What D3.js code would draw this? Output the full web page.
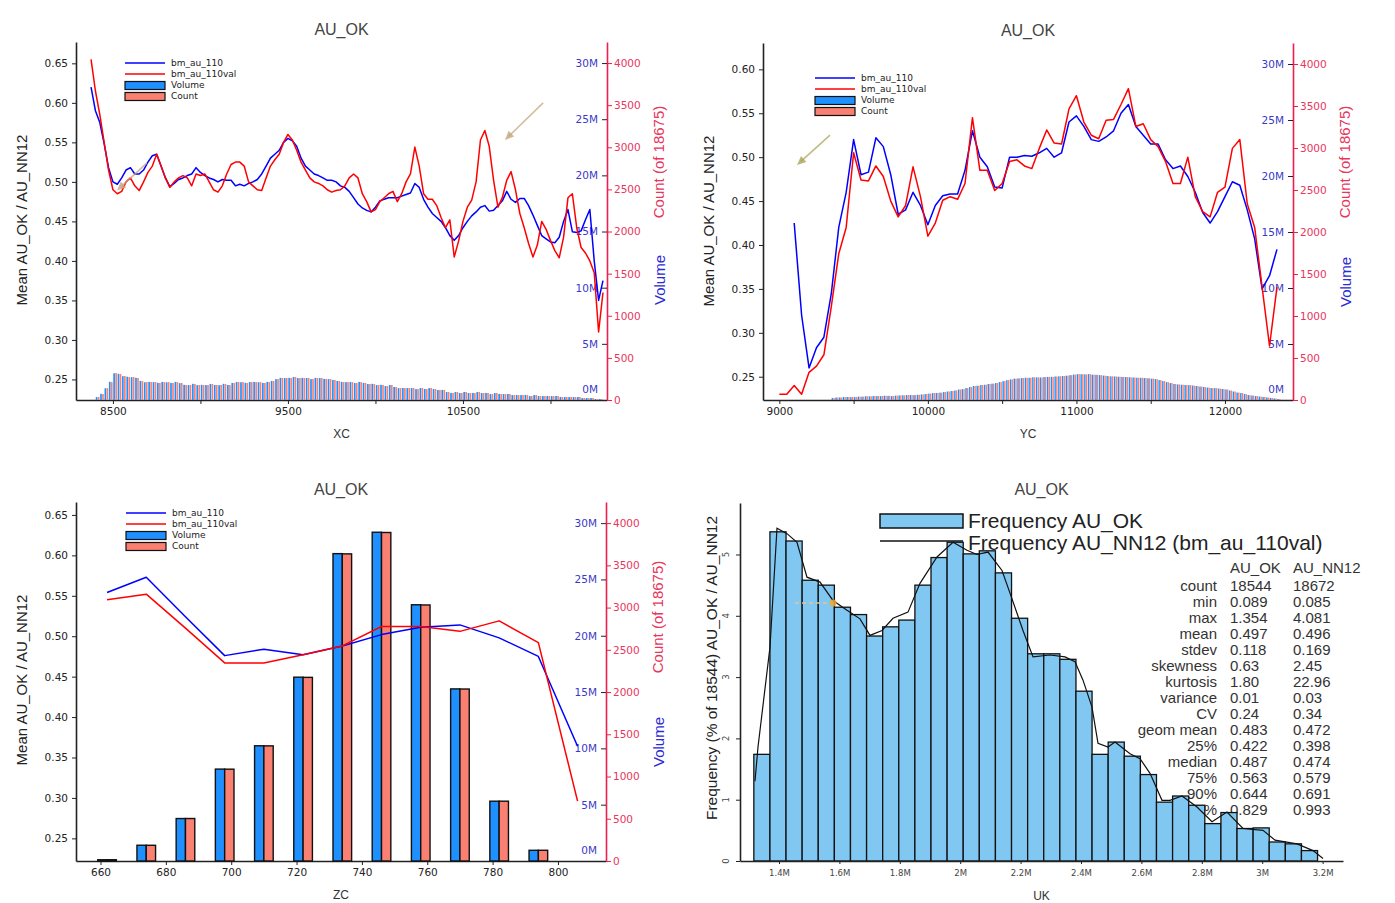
<!DOCTYPE html>
<html>
<head>
<meta charset="utf-8">
<script src="https://cdn.jsdelivr.net/npm/d3@7/dist/d3.min.js"></script>
<style>
  html, body { margin: 0; padding: 0; background: #fff; }
  svg { display: block; }
</style>
</head>
<body>
<svg id="chart" width="1395" height="903"></svg>
<script>
// ---------------- data ----------------
// Swath along XC: mean grade per 25 m slice
const xcLine = d3.range(8375, 11301, 25);
const xcMean110 = [
  0.62,0.59,0.575,0.548,0.518,0.50,0.497,0.505,0.515,0.518,
  0.51,0.51,0.515,0.525,0.533,0.535,0.52,0.505,0.494,0.498,
  0.503,0.505,0.508,0.51,0.518,0.512,0.508,0.505,0.503,0.50,
  0.503,0.502,0.502,0.495,0.497,0.495,0.498,0.50,0.503,0.51,
  0.52,0.53,0.535,0.54,0.55,0.555,0.552,0.545,0.53,0.52,
  0.515,0.51,0.508,0.505,0.502,0.502,0.50,0.495,0.493,0.488,
  0.48,0.472,0.467,0.464,0.462,0.468,0.476,0.478,0.48,0.48,
  0.48,0.482,0.484,0.486,0.498,0.493,0.478,0.468,0.46,0.455,
  0.45,0.442,0.432,0.426,0.432,0.442,0.45,0.457,0.462,0.468,
  0.47,0.463,0.464,0.47,0.476,0.488,0.478,0.474,0.479,0.479,
  0.47,0.458,0.445,0.432,0.428,0.424,0.423,0.43,0.45,0.465,
  0.437,0.436,0.438,0.452,0.465,0.40,0.35,0.375];
const xcMean110val = [
  0.655,0.615,0.585,0.55,0.515,0.49,0.485,0.488,0.50,0.505,
  0.495,0.489,0.50,0.512,0.52,0.535,0.52,0.505,0.493,0.50,
  0.505,0.508,0.505,0.495,0.51,0.508,0.51,0.50,0.49,0.487,
  0.495,0.51,0.522,0.525,0.525,0.52,0.50,0.495,0.49,0.489,
  0.505,0.52,0.528,0.535,0.55,0.56,0.553,0.54,0.525,0.515,
  0.505,0.50,0.498,0.495,0.49,0.487,0.489,0.49,0.495,0.505,
  0.51,0.505,0.485,0.475,0.462,0.465,0.475,0.48,0.485,0.488,
  0.475,0.485,0.50,0.51,0.544,0.52,0.485,0.478,0.478,0.47,
  0.455,0.442,0.452,0.405,0.425,0.45,0.468,0.477,0.50,0.553,
  0.565,0.545,0.502,0.468,0.48,0.502,0.513,0.49,0.46,0.442,
  0.422,0.405,0.42,0.45,0.44,0.426,0.413,0.404,0.43,0.48,
  0.485,0.442,0.417,0.41,0.40,0.385,0.31,0.36];
const xcBins = d3.range(8400, 11276, 25);
const xcCount = [
  36,71,142,213,320,308,285,273,273,261,
  225,213,213,213,202,213,213,202,213,202,
  178,178,190,178,178,178,190,178,178,190,
  178,202,213,213,202,213,213,213,202,213,
  225,249,261,261,261,273,261,261,261,249,
  261,261,249,249,237,225,213,213,213,202,
  213,202,190,190,178,178,166,178,154,142,
  142,142,142,130,142,130,142,130,119,119,
  95,83,95,83,95,83,83,95,83,83,
  71,83,71,71,71,59,59,59,59,47,
  59,47,47,47,47,47,36,36,36,36,
  36,24,24,24,12,12];
const xcVolumeM = [
  0.26,0.55,1.04,1.62,2.38,2.33,2.12,2.07,2.03,1.98,
  1.70,1.58,1.61,1.59,1.53,1.61,1.58,1.52,1.61,1.50,
  1.35,1.33,1.44,1.32,1.35,1.33,1.43,1.34,1.32,1.44,
  1.34,1.52,1.61,1.58,1.53,1.60,1.61,1.58,1.52,1.61,
  1.70,1.86,1.97,1.95,1.97,2.05,1.95,1.97,1.96,1.86,
  1.97,1.95,1.88,1.86,1.78,1.69,1.61,1.59,1.60,1.51,
  1.61,1.52,1.42,1.44,1.33,1.35,1.24,1.34,1.16,1.06,
  1.07,1.06,1.07,0.97,1.07,0.98,1.06,0.98,0.89,0.90,
  0.71,0.63,0.71,0.62,0.72,0.62,0.63,0.71,0.62,0.63,
  0.53,0.62,0.54,0.53,0.54,0.44,0.45,0.44,0.45,0.35,
  0.44,0.36,0.35,0.36,0.35,0.36,0.27,0.27,0.26,0.27,
  0.27,0.18,0.18,0.18,0.09,0.09];

// Swath along YC: mean grade per 50 m slice, histogram per 25 m
const ycLine = d3.range(9000, 12351, 50);
const ycMean110 = [
  null,null,0.425,0.32,0.26,0.283,0.295,0.345,0.42,0.46,
  0.52,0.48,0.483,0.522,0.512,0.48,0.435,0.44,0.46,0.445,
  0.423,0.445,0.456,0.458,0.458,0.485,0.53,0.50,0.489,0.466,
  0.465,0.50,0.50,0.502,0.501,0.505,0.51,0.50,0.505,0.54,
  0.547,0.535,0.52,0.518,0.523,0.53,0.55,0.56,0.535,0.525,
  0.515,0.515,0.497,0.487,0.49,0.478,0.46,0.437,0.425,0.438,
  0.455,0.472,0.468,0.44,0.407,0.35,0.365,0.395];
const ycMean110val = [
  0.23,0.23,0.24,0.23,0.255,0.262,0.275,0.33,0.39,0.42,
  0.505,0.474,0.473,0.49,0.478,0.45,0.432,0.445,0.489,0.455,
  0.41,0.425,0.451,0.455,0.452,0.47,0.545,0.485,0.485,0.462,
  0.47,0.495,0.497,0.49,0.487,0.51,0.531,0.516,0.515,0.555,
  0.57,0.54,0.525,0.521,0.542,0.543,0.56,0.578,0.535,0.538,
  0.52,0.512,0.495,0.47,0.47,0.50,0.455,0.438,0.432,0.46,
  0.466,0.51,0.52,0.447,0.42,0.352,0.285,0.352];
const ycBins = d3.range(9350, 12351, 25);
const ycCount = [
  24,30,30,36,36,36,
  36,40,40,45,45,47,47,47,50,50,47,52,55,55,59,59,59,62,66,
  71,76,83,83,88,95,101,107,113,
  125,130,142,154,
  166,170,178,182,190,195,202,213,225,
  237,245,254,258,261,265,265,270,270,268,273,275,275,280,282,285,290,
  296,302,308,308,305,308,302,300,296,
  290,285,282,280,277,275,273,270,268,265,265,
  261,258,254,249,237,225,213,202,
  190,185,182,178,178,172,166,160,154,148,
  142,142,136,130,125,113,101,
  89,83,71,
  59,53,47,41,36,
  30,24,18,12];
const ycVolumeM = [
  0.18,0.22,0.23,0.27,0.27,0.26,
  0.27,0.30,0.30,0.34,0.33,0.35,0.36,0.35,0.38,0.37,0.35,0.39,0.41,0.42,0.44,0.45,0.44,0.47,0.50,
  0.53,0.57,0.62,0.63,0.66,0.71,0.76,0.80,0.85,
  0.94,0.97,1.07,1.16,
  1.25,1.27,1.34,1.36,1.43,1.46,1.52,1.60,1.69,
  1.78,1.84,1.91,1.93,1.96,1.99,1.98,2.03,2.02,2.01,2.05,2.06,2.07,2.10,2.12,2.14,2.17,
  2.22,2.27,2.31,2.30,2.29,2.31,2.26,2.25,2.22,
  2.18,2.14,2.11,2.10,2.08,2.06,2.05,2.03,2.01,1.99,1.98,
  1.96,1.94,1.90,1.87,1.78,1.69,1.60,1.51,
  1.43,1.39,1.36,1.34,1.33,1.29,1.25,1.20,1.16,1.11,
  1.07,1.06,1.02,0.98,0.94,0.85,0.76,
  0.67,0.62,0.53,
  0.44,0.40,0.35,0.31,0.27,
  0.23,0.18,0.14,0.09];

// Benches along ZC (12 m)
const zcLine = d3.range(662, 807, 12);
const zcMean110 = [0.554,0.573,0.524,0.476,0.484,0.477,0.488,0.502,0.511,0.514,0.498,0.475,0.364];
const zcMean110val = [0.545,0.552,0.51,0.467,0.467,0.477,0.488,0.512,0.512,0.506,0.519,0.492,0.296];
const zcBins = d3.range(662, 795, 12);
const zcCount = [15,186,503,1087,1363,2174,3636,3889,3031,2036,708,127];
const zcVolumeM = [0.11,1.40,3.77,8.16,10.23,16.32,27.29,29.19,22.75,15.28,5.31,0.95];

// Grade histogram (% of samples per bin) and NN12 frequency polygon
const histStart = 1.3167e6, histBin = 0.05333e6;
const histFreqOK = [1.74,5.37,5.22,4.58,4.50,4.14,4.02,3.67,3.82,3.93,4.50,4.95,5.20,5.01,5.06,4.70,
  3.96,3.38,3.38,3.29,2.77,1.74,1.94,1.71,1.41,0.96,1.06,0.91,0.61,0.79,0.53,0.54,0.31,0.28,0.17];
const nnX = [1.3205,1.3305,1.3702,1.3934,1.4265,1.4596,1.4927,1.5358,1.5788,1.6252,1.6682,1.7013,
  1.7411,1.7775,1.8272,1.8669,1.9232,1.9762,2.0225,2.0556,2.0921,2.1384,2.1649,2.2079,2.2411,
  2.2974,2.3470,2.3801,2.4066,2.4364,2.4563,2.4894,2.5126,2.5623,2.5954,2.6285,2.6682,2.6947,
  2.7344,2.7841,2.8338,2.8834,2.9364,3.0026,3.0424,3.1152,3.1682,3.2013];
const nnFreq = [1.30,1.86,3.49,5.43,5.34,5.20,4.63,4.55,4.25,4.09,3.95,3.68,
  3.76,3.96,4.06,4.53,4.96,5.20,5.07,5.00,5.04,4.74,4.37,3.76,3.33,
  3.36,3.33,3.25,2.95,2.51,1.92,1.86,1.94,1.75,1.67,1.43,0.99,0.99,
  1.06,0.88,0.64,0.80,0.53,0.50,0.34,0.28,0.17,0.04];

const statLabels = ["count","min","max","mean","stdev","skewness","kurtosis","variance","CV",
  "geom mean","25%","median","75%","90%","95%"];
const statOK = ["18544","0.089","1.354","0.497","0.118","0.63","1.80","0.01","0.24","0.483","0.422","0.487","0.563","0.644","0.829"];
const statNN = ["18672","0.085","4.081","0.496","0.169","2.45","22.96","0.03","0.34","0.472","0.398","0.474","0.579","0.691","0.993"];

// ---------------- drawing ----------------
const svg = d3.select("#chart");
const SANS = "'Liberation Sans', Arial, sans-serif";
const TICK = "'DejaVu Sans', Verdana, sans-serif";
const COUNT_MAX = 4250, VOLUME_MAX = 31.875e6;
const COL = {
  line110: "#0000ff", line110val: "#ff0000",
  vol: "#1e90ff", cnt: "#fa8072",
  cntAxis: "#ee1f4f", cntText: "#e8365d", volText: "#3a3ac8", volTitle: "#2a2ad8"
};

function pointer(g, from, to, color) {
  const [x1, y1] = from, [x2, y2] = to;
  const a = Math.atan2(y2 - y1, x2 - x1), L = 9, W = 4;
  g.append("line").attr("x1", x1).attr("y1", y1).attr("x2", x2 - 5 * Math.cos(a)).attr("y2", y2 - 5 * Math.sin(a))
    .attr("stroke", color).attr("stroke-width", 1.6).attr("opacity", 0.75);
  const bx = x2 - L * Math.cos(a), by = y2 - L * Math.sin(a);
  g.append("path")
    .attr("d", `M${x2},${y2}L${bx + W * Math.sin(a)},${by - W * Math.cos(a)}L${bx - W * Math.sin(a)},${by + W * Math.cos(a)}Z`)
    .attr("fill", color).attr("opacity", 0.8);
}

function swathPanel(p) {
  const g = svg.append("g");
  const x = d3.scaleLinear().domain(p.xDomain).range([p.left, p.right]);
  const yL = d3.scaleLinear().domain(p.yDomain).range([p.bottom, p.top]);
  const yC = d3.scaleLinear().domain([0, COUNT_MAX]).range([p.bottom, p.top]);
  const yV = d3.scaleLinear().domain([0, VOLUME_MAX]).range([p.bottom, p.top]);

  // title
  g.append("text").attr("x", (p.left + p.right) / 2).attr("y", p.top - 7)
    .attr("text-anchor", "middle").attr("font-family", SANS).attr("font-size", 16)
    .attr("fill", "#444").text("AU_OK");

  // left axis
  const axL = g.append("g").attr("transform", `translate(${p.left},0)`)
    .call(d3.axisLeft(yL).tickValues(p.yTicks).tickFormat(d3.format(".2f"))
      .tickSize(4).tickPadding(4).tickSizeOuter(0));
  axL.attr("font-family", TICK).attr("font-size", 10.5).attr("color", "#222");
  axL.select(".domain").attr("stroke-width", 1.6);

  // bottom axis
  const axB = g.append("g").attr("transform", `translate(0,${p.bottom})`)
    .call(d3.axisBottom(x).tickValues(p.xTicks).tickFormat(d => p.xLabels.includes(d) ? d : "")
      .tickSize(4).tickPadding(4).tickSizeOuter(0));
  axB.attr("font-family", TICK).attr("font-size", 10.5).attr("color", "#222");
  axB.select(".domain").attr("stroke-width", 1.6);

  // right axes: count (outside) and volume (inside)
  const axC = g.append("g").attr("transform", `translate(${p.right},0)`)
    .call(d3.axisRight(yC).tickValues(d3.range(0, 4001, 500)).tickFormat(d3.format("d"))
      .tickSize(5).tickPadding(2).tickSizeOuter(0));
  axC.attr("font-family", TICK).attr("font-size", 10.5).attr("color", COL.cntAxis);
  axC.select(".domain").attr("stroke-width", 1.6);
  axC.selectAll(".tick text").attr("fill", COL.cntText);

  const axV = g.append("g").attr("transform", `translate(${p.right},0)`)
    .call(d3.axisLeft(yV).tickValues(d3.range(0, 30e6 + 1, 5e6)).tickFormat(d => d / 1e6 + "M")
      .tickSize(5).tickPadding(4).tickSizeOuter(0));
  axV.attr("font-family", TICK).attr("font-size", 10.5).attr("color", "#223");
  axV.select(".domain").remove();
  axV.selectAll(".tick text").attr("fill", COL.volText);
  axV.selectAll(".tick text").filter(d => d === 0).attr("y", -11);

  // axis titles
  g.append("text").attr("transform", `translate(${p.left - 54},${p.yTitleY}) rotate(-90)`)
    .attr("text-anchor", "middle").attr("dy", "0.35em").attr("font-family", SANS).attr("font-size", 15)
    .attr("fill", "#222").text("Mean AU_OK / AU_NN12");
  g.append("text").attr("x", (p.left + p.right) / 2).attr("y", p.bottom + 38)
    .attr("text-anchor", "middle").attr("font-family", SANS).attr("font-size", 12)
    .attr("fill", "#333").text(p.xTitle);
  g.append("text").attr("transform", `translate(${p.right + 52},${p.countTitleY}) rotate(-90)`)
    .attr("text-anchor", "middle").attr("dy", "0.35em").attr("font-family", SANS).attr("font-size", 15)
    .attr("fill", COL.cntText).text("Count (of 18675)");
  g.append("text").attr("transform", `translate(${p.right + 53},${p.volTitleY}) rotate(-90)`)
    .attr("text-anchor", "middle").attr("dy", "0.35em").attr("font-family", SANS).attr("font-size", 15)
    .attr("fill", COL.volTitle).text("Volume");

  // bars
  const bars = g.append("g");
  if (p.grouped) {
    const half = p.barHalf;
    bars.selectAll("rect.v").data(p.bins).join("rect").attr("class", "v")
      .attr("x", d => x(d - half)).attr("width", d => x(d) - x(d - half))
      .attr("y", (d, i) => yV(p.volume[i] * 1e6)).attr("height", (d, i) => p.bottom - yV(p.volume[i] * 1e6))
      .attr("fill", COL.vol).attr("stroke", "#111").attr("stroke-width", 1.4);
    bars.selectAll("rect.c").data(p.bins).join("rect").attr("class", "c")
      .attr("x", d => x(d)).attr("width", d => x(d + half) - x(d))
      .attr("y", (d, i) => yC(p.count[i])).attr("height", (d, i) => p.bottom - yC(p.count[i]))
      .attr("fill", COL.cnt).attr("stroke", "#111").attr("stroke-width", 1.4);
  } else {
    const step = p.bins[1] - p.bins[0];
    const bw = x(p.bins[0] + step) - x(p.bins[0]);
    bars.selectAll("rect.v").data(p.bins).join("rect").attr("class", "v")
      .attr("x", d => x(d) + 0.08 * bw).attr("width", 0.38 * bw)
      .attr("y", (d, i) => yV(p.volume[i] * 1e6)).attr("height", (d, i) => p.bottom - yV(p.volume[i] * 1e6))
      .attr("fill", COL.vol);
    bars.selectAll("rect.c").data(p.bins).join("rect").attr("class", "c")
      .attr("x", d => x(d) + 0.54 * bw).attr("width", 0.38 * bw)
      .attr("y", (d, i) => yC(p.count[i])).attr("height", (d, i) => p.bottom - yC(p.count[i]))
      .attr("fill", COL.cnt);
  }

  // mean lines
  const lineOf = vals => d3.line().defined((d, i) => vals[i] != null).x(d => x(d)).y((d, i) => yL(vals[i]));
  g.append("path").attr("d", lineOf(p.mean110)(p.lineX)).attr("fill", "none")
    .attr("stroke", COL.line110).attr("stroke-width", 1.5).attr("stroke-linejoin", "round");
  g.append("path").attr("d", lineOf(p.mean110val)(p.lineX)).attr("fill", "none")
    .attr("stroke", COL.line110val).attr("stroke-width", 1.5).attr("stroke-linejoin", "round");

  // legend
  const lg = g.append("g").attr("transform", `translate(${p.legend[0]},${p.legend[1]})`);
  const items = [
    { t: "bm_au_110", kind: "line", c: COL.line110, y: 0 },
    { t: "bm_au_110val", kind: "line", c: COL.line110val, y: 11 },
    { t: "Volume", kind: "box", c: COL.vol, y: 22.5 },
    { t: "Count", kind: "box", c: COL.cnt, y: 33.5 }
  ];
  items.forEach(it => {
    if (it.kind === "line") {
      lg.append("line").attr("x1", 0).attr("x2", 40).attr("y1", it.y).attr("y2", it.y)
        .attr("stroke", it.c).attr("stroke-width", 1.6);
    } else {
      lg.append("rect").attr("x", 0).attr("y", it.y - 4).attr("width", 40).attr("height", 8)
        .attr("fill", it.c).attr("stroke", "#111").attr("stroke-width", 1.2);
    }
    lg.append("text").attr("x", 46).attr("y", it.y).attr("dy", "0.33em")
      .attr("font-family", TICK).attr("font-size", 9).attr("fill", "#222").text(it.t);
  });

  if (p.pointers) p.pointers.forEach(pt => pointer(g, [x(pt.from[0]), yL(pt.from[1])], [x(pt.to[0]), yL(pt.to[1])], pt.color));
}

// XC swath
swathPanel({
  left: 76, right: 607, top: 42, bottom: 400,
  xDomain: [8289, 11323], yDomain: [0.224, 0.677],
  yTicks: [0.25, 0.30, 0.35, 0.40, 0.45, 0.50, 0.55, 0.60, 0.65],
  xTicks: d3.range(8500, 11001, 500), xLabels: [8500, 9500, 10500], xTitle: "XC",
  yTitleY: 220, countTitleY: 162, volTitleY: 280,
  lineX: xcLine, mean110: xcMean110, mean110val: xcMean110val,
  bins: xcBins, count: xcCount, volume: xcVolumeM,
  legend: [125, 63],
  pointers: [
    { from: [10958, 0.600], to: [10740, 0.553], color: "#c6a57a" },
    { from: [8695, 0.524], to: [8523, 0.489], color: "#c6a57a" }
  ]
});

// YC swath
swathPanel({
  left: 763, right: 1293, top: 43, bottom: 400,
  xDomain: [8890, 12458], yDomain: [0.2235, 0.630],
  yTicks: [0.25, 0.30, 0.35, 0.40, 0.45, 0.50, 0.55, 0.60],
  xTicks: d3.range(9000, 12001, 500), xLabels: [9000, 10000, 11000, 12000], xTitle: "YC",
  yTitleY: 221, countTitleY: 162, volTitleY: 282,
  lineX: ycLine, mean110: ycMean110, mean110val: ycMean110val,
  bins: ycBins, count: ycCount, volume: ycVolumeM,
  legend: [815, 78],
  pointers: [
    { from: [9341, 0.525], to: [9119, 0.491], color: "#aaa65c" }
  ]
});

// ZC benches
swathPanel({
  left: 76, right: 606, top: 502, bottom: 861,
  xDomain: [652.5, 814.7], yDomain: [0.222, 0.666],
  yTicks: [0.25, 0.30, 0.35, 0.40, 0.45, 0.50, 0.55, 0.60, 0.65],
  xTicks: d3.range(660, 801, 20), xLabels: d3.range(660, 801, 20), xTitle: "ZC",
  yTitleY: 680, countTitleY: 617, volTitleY: 742,
  lineX: zcLine, mean110: zcMean110, mean110val: zcMean110val,
  bins: zcBins, count: zcCount, volume: zcVolumeM,
  grouped: true, barHalf: 2.85,
  legend: [126, 513]
});

// ---------------- histogram panel ----------------
(function histogramPanel() {
  const left = 740, right = 1343, top = 503, bottom = 861;
  const g = svg.append("g");
  const x = d3.scaleLinear().domain([1.2709e6, 3.2675e6]).range([left, right]);
  const y = d3.scaleLinear().domain([0, 5.84]).range([bottom, top]);

  g.append("text").attr("x", (left + right) / 2).attr("y", 495)
    .attr("text-anchor", "middle").attr("font-family", SANS).attr("font-size", 16)
    .attr("fill", "#444").text("AU_OK");

  // stats table (drawn beneath the bars)
  const tg = g.append("g").attr("font-family", SANS).attr("font-size", 15).attr("fill", "#333");
  tg.append("text").attr("x", 1230).attr("y", 568).attr("dy", "0.35em").text("AU_OK");
  tg.append("text").attr("x", 1293).attr("y", 568).attr("dy", "0.35em").text("AU_NN12");
  statLabels.forEach((lab, i) => {
    const yy = 586 + 16 * i;
    tg.append("text").attr("x", 1217).attr("y", yy).attr("dy", "0.35em").attr("text-anchor", "end").text(lab);
    tg.append("text").attr("x", 1230).attr("y", yy).attr("dy", "0.35em").text(statOK[i]);
    tg.append("text").attr("x", 1293).attr("y", yy).attr("dy", "0.35em").text(statNN[i]);
  });

  // bars
  g.append("g").selectAll("rect").data(histFreqOK).join("rect")
    .attr("x", (d, i) => x(histStart + i * histBin))
    .attr("width", (d, i) => x(histStart + (i + 1) * histBin) - x(histStart + i * histBin))
    .attr("y", d => y(d)).attr("height", d => bottom - y(d))
    .attr("fill", "#80c8f2").attr("stroke", "#111").attr("stroke-width", 1.3);

  // NN12 frequency polygon
  g.append("path")
    .attr("d", d3.line().x((d, i) => x(nnX[i] * 1e6)).y((d, i) => y(nnFreq[i]))(nnX))
    .attr("fill", "none").attr("stroke", "#111").attr("stroke-width", 1.2);

  // axes
  const axB = g.append("g").attr("transform", `translate(0,${bottom})`)
    .call(d3.axisBottom(x).tickValues([1.4e6, 1.6e6, 1.8e6, 2.0e6, 2.2e6, 2.4e6, 2.6e6, 2.8e6, 3.0e6, 3.2e6])
      .tickFormat(d3.format("~s")).tickSize(3).tickPadding(6).tickSizeOuter(0));
  axB.attr("font-family", TICK).attr("font-size", 8.5).attr("color", "#222");
  axB.selectAll(".tick text").attr("fill", "#444");
  axB.select(".domain").attr("stroke-width", 1.6);

  const axL = g.append("g").attr("transform", `translate(${left},0)`)
    .call(d3.axisLeft(y).tickValues([0, 1, 2, 3, 4, 5]).tickFormat("").tickSize(4).tickSizeOuter(0));
  axL.attr("color", "#222");
  axL.select(".domain").attr("stroke-width", 1.6);
  [0, 1, 2, 3, 4, 5].forEach(v => {
    g.append("text").attr("transform", `translate(${left - 11},${y(v)}) rotate(-90)`)
      .attr("text-anchor", "middle").attr("font-family", TICK).attr("font-size", 8.5)
      .attr("fill", "#444").text(v);
  });

  g.append("text").attr("transform", `translate(712,668) rotate(-90)`)
    .attr("text-anchor", "middle").attr("dy", "0.35em").attr("font-family", SANS).attr("font-size", 15.5)
    .attr("fill", "#222").text("Frequency (% of 18544) AU_OK / AU_NN12");
  g.append("text").attr("x", (left + right) / 2).attr("y", 900)
    .attr("text-anchor", "middle").attr("font-family", SANS).attr("font-size", 12)
    .attr("fill", "#333").text("UK");

  // legend
  g.append("rect").attr("x", 880).attr("y", 514).attr("width", 83).attr("height", 14)
    .attr("fill", "#80c8f2").attr("stroke", "#111").attr("stroke-width", 1.5);
  g.append("line").attr("x1", 880).attr("x2", 963).attr("y1", 541).attr("y2", 541)
    .attr("stroke", "#111").attr("stroke-width", 1.5);
  g.append("text").attr("x", 968).attr("y", 528).attr("font-family", SANS).attr("font-size", 21)
    .attr("fill", "#222").text("Frequency AU_OK");
  g.append("text").attr("x", 968).attr("y", 550).attr("font-family", SANS).attr("font-size", 21)
    .attr("fill", "#222").text("Frequency AU_NN12 (bm_au_110val)");

  // marker
  g.append("line").attr("x1", x(1.453e6)).attr("x2", x(1.575e6)).attr("y1", y(4.21)).attr("y2", y(4.21))
    .attr("stroke", "#e3c49a").attr("stroke-width", 1.5).attr("stroke-dasharray", "4,3");
  g.append("circle").attr("cx", x(1.579e6)).attr("cy", y(4.21)).attr("r", 3.5).attr("fill", "#f0a830").attr("opacity", 0.85);
})();
</script>
</body>
</html>
